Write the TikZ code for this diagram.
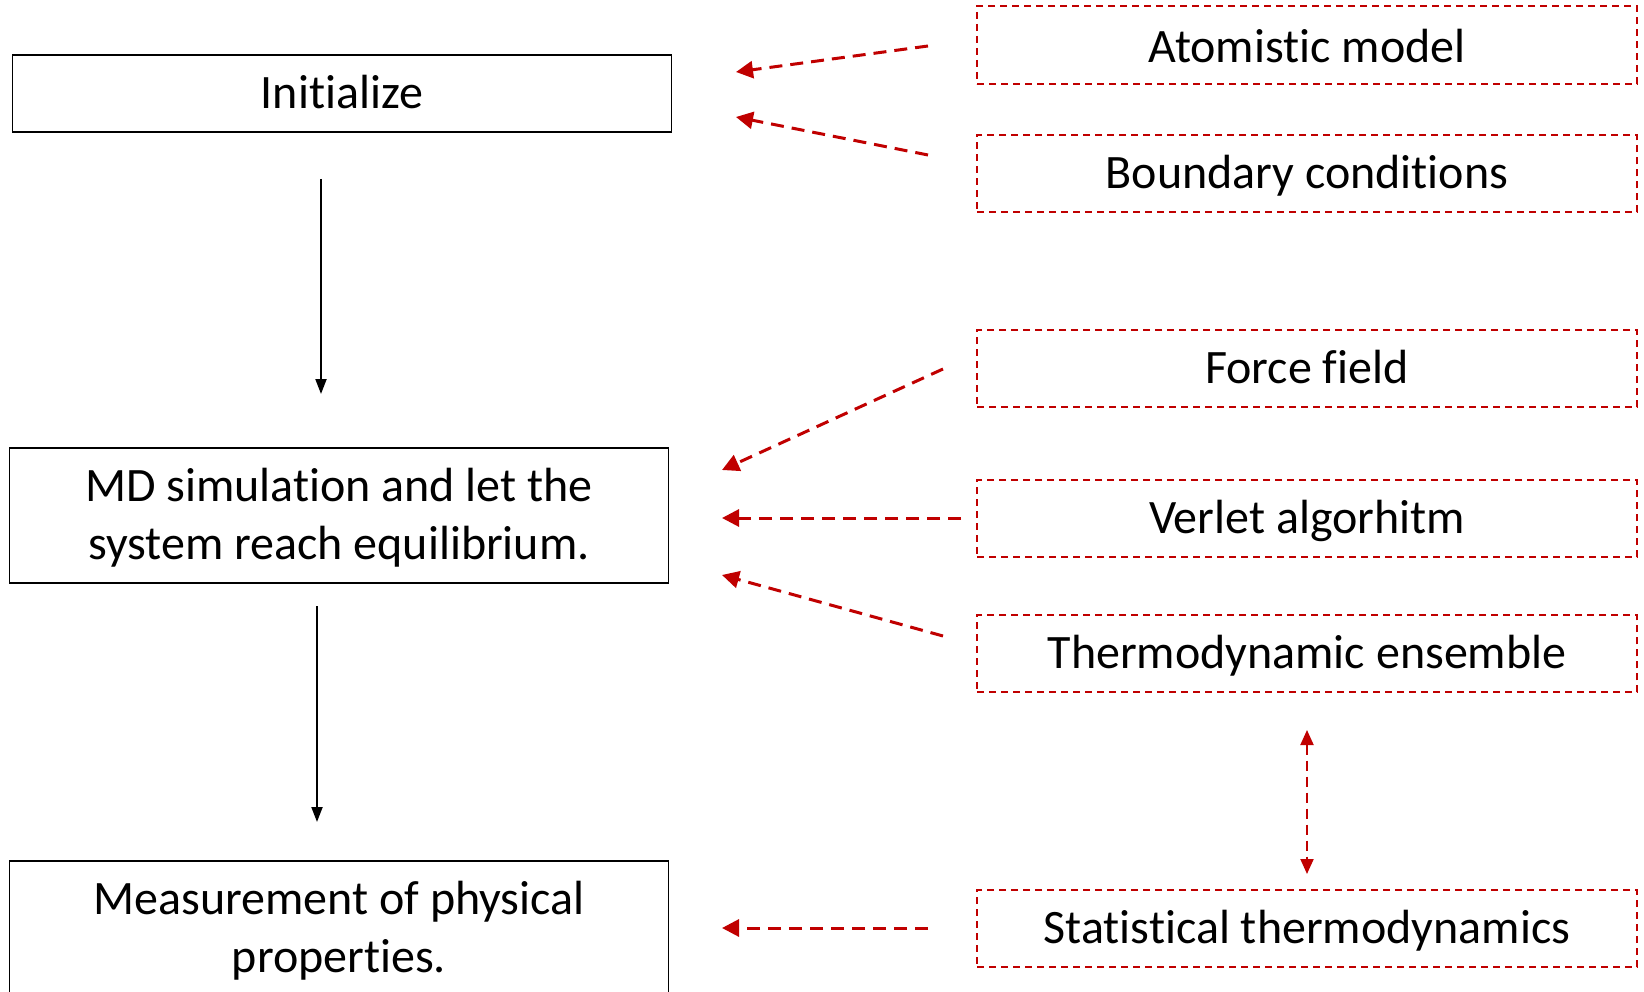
\documentclass[tikz,border=0pt]{standalone}
\usepackage{fontspec}
\setmainfont{Carlito}[RawFeature={-liga}]
\usetikzlibrary{arrows.meta}
\definecolor{darkred}{HTML}{C00000}
% two centred lines, set slightly below the middle of their box
\newcommand{\stacklines}[2]{\raisebox{-3pt}[\height][\depth]{%
  \begin{tabular}{@{}c@{}}#1\\#2\end{tabular}}}
\begin{document}
\begin{tikzpicture}[x=1pt,y=-1pt,
  txt/.style={font=\fontsize{48}{58}\selectfont, inner sep=0pt},
  oneline/.style={text height=40pt, text depth=10pt},
  stepbox/.style={txt, draw=black, line width=1.8pt, minimum width=659pt},
  inputbox/.style={txt, oneline, draw=darkred, line width=2pt, dash pattern=on 7pt off 5pt,
    minimum width=660pt, minimum height=77pt},
  flow/.style={draw=black, line width=2pt, -{Triangle[length=15pt,width=11pt]}},
  feed/.style={draw=darkred, line width=3pt, dash pattern=on 13pt off 8pt,
    -{Triangle[length=17pt,width=17pt]}},
  link/.style={draw=darkred, line width=2pt, dash pattern=on 10pt off 6pt,
    {Triangle[length=15pt,width=13pt]}-{Triangle[length=15pt,width=13pt]}}]
  \useasboundingbox (0,0) rectangle (1644,992);
  \clip (0,0) rectangle (1644,992);

  % main workflow
  \node[stepbox, oneline, minimum height=77pt] (init) at (342,93.5) {Initialize};
  \node[stepbox, minimum height=135pt] (md) at (339,515.8)
    {\stacklines{MD simulation and let the}{system reach equilibrium.}};
  \node[stepbox, minimum height=135pt] (meas) at (339,928.5)
    {\stacklines{Measurement of physical}{properties.}};

  % ingredients
  \node[inputbox, text height=45pt, minimum height=78pt] (atom) at (1307,45) {Atomistic model};
  \node[inputbox] (bound) at (1307,173.8) {Boundary conditions};
  \node[inputbox] (force) at (1307,368.7) {Force field};
  \node[inputbox] (verl)  at (1307,518.5) {Verlet algorhitm};
  \node[inputbox] (ens)   at (1307,653.8) {Thermodynamic ensemble};
  \node[inputbox] (stat)  at (1307,928.7) {Statistical thermodynamics};

  % connector ends
  \coordinate (i1) at (321,179);  \coordinate (i2) at (321,394);
  \coordinate (m1) at (317,606);  \coordinate (m2) at (317,822);
  \coordinate (a1) at (928,46);   \coordinate (a2) at (736,72);
  \coordinate (b1) at (928,155);  \coordinate (b2) at (736,117);
  \coordinate (f1) at (943,369);  \coordinate (f2) at (722,470);
  \coordinate (v1) at (961,518);  \coordinate (v2) at (722,518);
  \coordinate (t1) at (943,636);  \coordinate (t2) at (722,575);
  \coordinate (e1) at (1307,730); \coordinate (e2) at (1307,874);
  \coordinate (s1) at (928,928);  \coordinate (s2) at (722,928);

  \draw[flow] (i1) -- (i2);
  \draw[flow] (m1) -- (m2);
  \draw[feed] (a1) -- (a2);
  \draw[feed] (b1) -- (b2);
  \draw[feed] (f1) -- (f2);
  \draw[feed] (v1) -- (v2);
  \draw[feed] (t1) -- (t2);
  \draw[feed] (s1) -- (s2);
  \draw[link] (e1) -- (e2);
\end{tikzpicture}
\end{document}
